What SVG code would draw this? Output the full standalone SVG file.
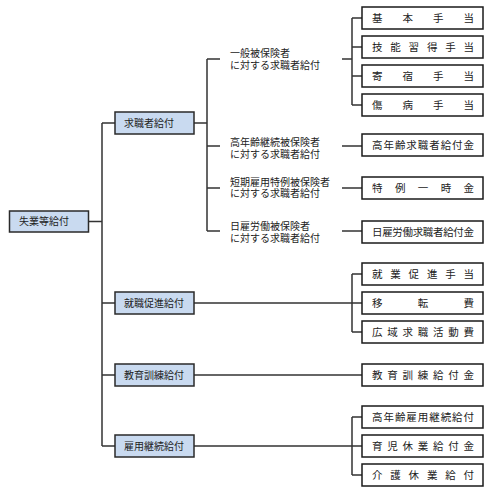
<svg xmlns="http://www.w3.org/2000/svg" width="491" height="491" viewBox="0 0 491 491">
<style>
text{font-family:"Liberation Sans","Noto Sans CJK JP",sans-serif;fill:#222;}
.l1{fill:#c9daf0;stroke:#2a2a2a;stroke-width:1.5;}
.bx{fill:#fff;stroke:#1a1a1a;stroke-width:1.5;}
.t1{font-size:10px;}
.tb{font-size:10.5px;}
.lb{font-size:10px;}
#connectors path{fill:none;stroke:#333;stroke-width:1.5;}
</style>
<rect width="491" height="491" fill="#fff"/>
<g id="connectors">
<path d="M88.5,221.5H102M102,123V446M102,123H115M102,303H115M102,375H115M102,446H115"/>
<path d="M194,123H207M207,59V231M207,59H220M207,146H220M207,188H220M207,231H220"/>
<path d="M342,59H352M352,18V105M352,18H362M352,47H362M352,76H362M352,105H362"/>
<path d="M342,146H362M342,188H362M342,231H362"/>
<path d="M194,303H362M352,274V332M352,274H362M352,332H362"/>
<path d="M194,375H362"/>
<path d="M194,446H362M352,417V475M352,417H362M352,475H362"/>
</g>
<g id="n-root"><rect class="l1" x="9.5" y="211" width="79" height="21"/><text class="t1" x="19" y="225.3">失業等給付</text></g>
<g id="n-kyushoku"><rect class="l1" x="115" y="112" width="79" height="22"/><text class="t1" x="124" y="126.8">求職者給付</text></g>
<g id="n-shushoku"><rect class="l1" x="115" y="292" width="79" height="22"/><text class="t1" x="124" y="306.8">就職促進給付</text></g>
<g id="n-kyoiku"><rect class="l1" x="115" y="364" width="79" height="22"/><text class="t1" x="124" y="378.8">教育訓練給付</text></g>
<g id="n-keizoku"><rect class="l1" x="115" y="435" width="79" height="22"/><text class="t1" x="124" y="449.8">雇用継続給付</text></g>
<g id="l-ippan"><text class="lb" x="230" y="56.5">一般被保険者</text><text class="lb" x="230" y="68.8">に対する求職者給付</text></g>
<g id="l-konenrei"><text class="lb" x="230" y="145.5">高年齢継続被保険者</text><text class="lb" x="230" y="157.8">に対する求職者給付</text></g>
<g id="l-tanki"><text class="lb" x="230" y="185.5">短期雇用特例被保険者</text><text class="lb" x="230" y="197.3">に対する求職者給付</text></g>
<g id="l-hiyatoi"><text class="lb" x="230" y="229.5">日雇労働被保険者</text><text class="lb" x="230" y="241.8">に対する求職者給付</text></g>
<g id="b-kihon"><rect class="bx" x="362" y="7" width="121" height="22"/><text class="tb" x="372" y="21.8" textLength="102" lengthAdjust="spacing">基本手当</text></g>
<g id="b-gino"><rect class="bx" x="362" y="36" width="121" height="22"/><text class="tb" x="372" y="50.8" textLength="102" lengthAdjust="spacing">技能習得手当</text></g>
<g id="b-kishuku"><rect class="bx" x="362" y="65" width="121" height="22"/><text class="tb" x="372" y="79.8" textLength="102" lengthAdjust="spacing">寄宿手当</text></g>
<g id="b-shobyo"><rect class="bx" x="362" y="94" width="121" height="22"/><text class="tb" x="372" y="108.8" textLength="102" lengthAdjust="spacing">傷病手当</text></g>
<g id="b-konenrei"><rect class="bx" x="362" y="134" width="121" height="22"/><text class="tb" x="372" y="148.8" textLength="102" lengthAdjust="spacing">高年齢求職者給付金</text></g>
<g id="b-tokurei"><rect class="bx" x="362" y="177" width="121" height="22"/><text class="tb" x="372" y="191.8" textLength="102" lengthAdjust="spacing">特例一時金</text></g>
<g id="b-hiyatoi"><rect class="bx" x="362" y="221" width="121" height="22"/><text class="tb" x="372" y="235.8" textLength="102" lengthAdjust="spacing">日雇労働求職者給付金</text></g>
<g id="b-shugyo"><rect class="bx" x="362" y="263" width="121" height="22"/><text class="tb" x="372" y="277.8" textLength="102" lengthAdjust="spacing">就業促進手当</text></g>
<g id="b-iten"><rect class="bx" x="362" y="292" width="121" height="22"/><text class="tb" x="372" y="306.8" textLength="102" lengthAdjust="spacing">移転費</text></g>
<g id="b-koiki"><rect class="bx" x="362" y="321" width="121" height="22"/><text class="tb" x="372" y="335.8" textLength="102" lengthAdjust="spacing">広域求職活動費</text></g>
<g id="b-kyoiku"><rect class="bx" x="362" y="364" width="121" height="22"/><text class="tb" x="372" y="378.8" textLength="102" lengthAdjust="spacing">教育訓練給付金</text></g>
<g id="b-koyo"><rect class="bx" x="362" y="406" width="121" height="22"/><text class="tb" x="372" y="420.8" textLength="102" lengthAdjust="spacing">高年齢雇用継続給付</text></g>
<g id="b-ikuji"><rect class="bx" x="362" y="435" width="121" height="22"/><text class="tb" x="372" y="449.8" textLength="102" lengthAdjust="spacing">育児休業給付金</text></g>
<g id="b-kaigo"><rect class="bx" x="362" y="464" width="121" height="22"/><text class="tb" x="372" y="478.8" textLength="102" lengthAdjust="spacing">介護休業給付</text></g>
</svg>
